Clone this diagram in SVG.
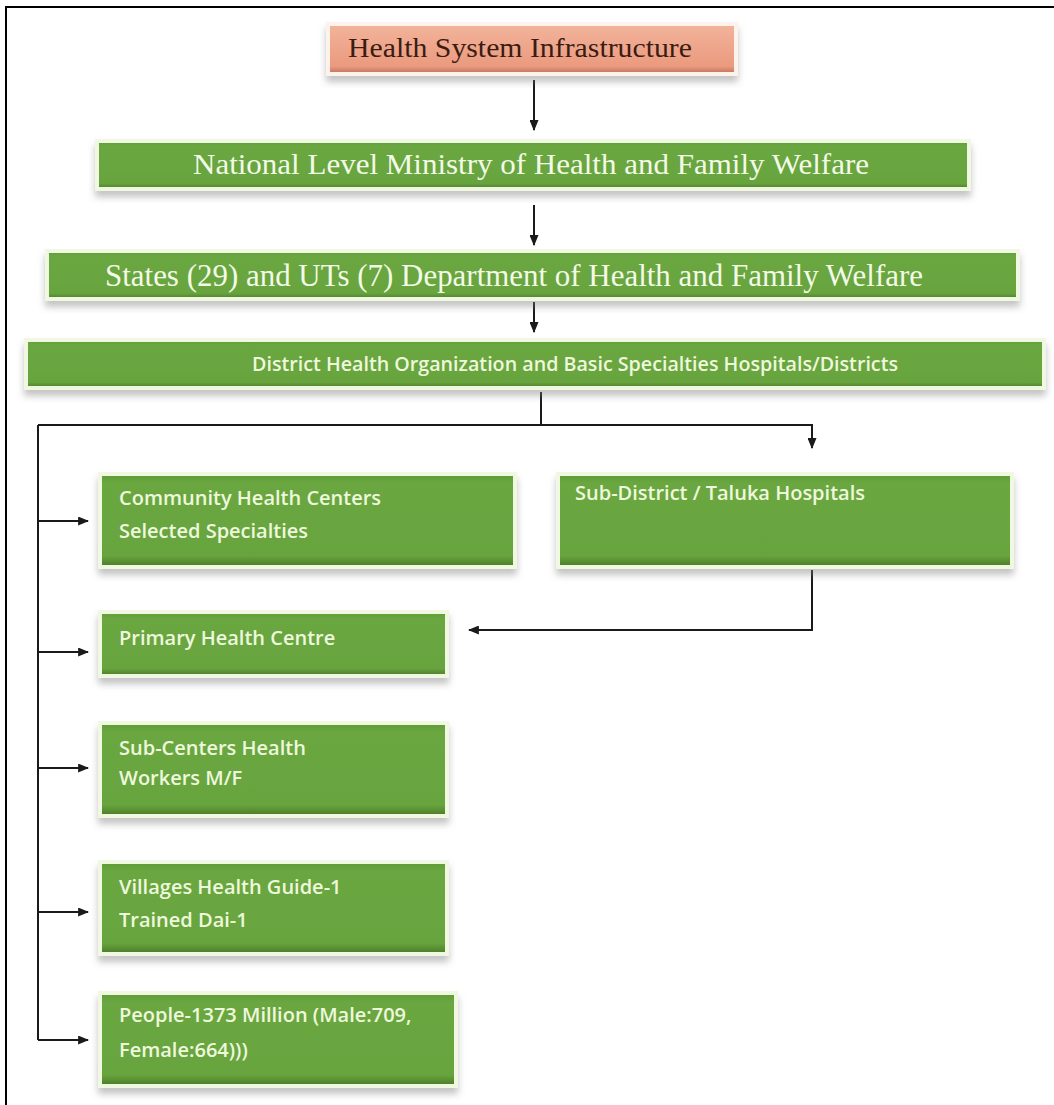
<svg xmlns="http://www.w3.org/2000/svg" width="1054" height="1105" viewBox="0 0 1054 1105">
<defs>
<linearGradient id="gGreen" x1="0" y1="0" x2="0" y2="1">
<stop offset="0" stop-color="#5f9a36"/>
<stop offset="0.1" stop-color="#6aa740"/>
<stop offset="0.88" stop-color="#68a43e"/>
<stop offset="1" stop-color="#4a7a26"/>
</linearGradient>
<linearGradient id="gSalmon" x1="0" y1="0" x2="0" y2="1">
<stop offset="0" stop-color="#f2b49c"/>
<stop offset="0.85" stop-color="#eb9a7e"/>
<stop offset="1" stop-color="#b87058"/>
</linearGradient>
<filter id="sh" x="-5%" y="-20%" width="110%" height="150%">
<feDropShadow dx="0" dy="6" stdDeviation="3.5" flood-color="#7a7a7a" flood-opacity="0.45"/>
</filter>
<marker id="ah" viewBox="0 0 10 10" refX="9" refY="5" markerWidth="11" markerHeight="9" orient="auto-start-reverse" markerUnits="userSpaceOnUse" preserveAspectRatio="none">
<path d="M0,0 L10,5 L0,10 z" fill="#1a1a1a"/>
</marker>
</defs>
<style>
.box{fill:url(#gGreen);stroke:#f1f8e2;stroke-width:4;filter:url(#sh)}
.top{fill:url(#gSalmon);stroke:#fdf3ec;stroke-width:4;filter:url(#sh)}
.serif{font-family:"Liberation Serif","DejaVu Serif",serif;fill:#f3fae6}
.sans{font-family:"Open Sans","Liberation Sans",sans-serif;fill:#eef8dc;font-size:20px;font-weight:600}
.ln{stroke:#1a1a1a;stroke-width:2;fill:none}
.ar{stroke:#1a1a1a;stroke-width:2;fill:none;marker-end:url(#ah)}
</style>
<rect x="0" y="0" width="1054" height="1105" fill="#ffffff"/>
<path d="M6,1105 V7 H1054" fill="none" stroke="#000" stroke-width="2"/>

<g id="connectors">
<line class="ar" x1="534" y1="80" x2="534" y2="130"/>
<line class="ar" x1="534" y1="205" x2="534" y2="245"/>
<line class="ar" x1="534" y1="302" x2="534" y2="332"/>
<polyline class="ln" points="541,392 541,425"/>
<polyline class="ar" points="38,425 812,425 812,448"/>
<polyline class="ln" points="38,425 38,1040"/>
<line class="ar" x1="38" y1="521" x2="88" y2="521"/>
<line class="ar" x1="38" y1="652" x2="88" y2="652"/>
<line class="ar" x1="38" y1="768" x2="88" y2="768"/>
<line class="ar" x1="38" y1="912" x2="88" y2="912"/>
<line class="ar" x1="38" y1="1040" x2="88" y2="1040"/>
<polyline class="ar" points="812,570 812,630 469,630"/>
</g>

<g id="n-top">
<rect class="top" x="328" y="24" width="408" height="50"/>
<text x="348" y="57" font-family="Liberation Serif, DejaVu Serif, serif" font-size="27" fill="#3a1c12" textLength="344" lengthAdjust="spacingAndGlyphs">Health System Infrastructure</text>
</g>

<g id="n-national">
<rect class="box" x="97" y="141" width="872" height="48"/>
<text class="serif" x="193" y="174" font-size="30" textLength="676" lengthAdjust="spacingAndGlyphs">National Level Ministry of Health and Family Welfare</text>
</g>

<g id="n-states">
<rect class="box" x="47" y="251" width="971" height="48"/>
<text class="serif" x="105" y="286" font-size="32" textLength="818" lengthAdjust="spacingAndGlyphs">States (29) and UTs (7) Department of Health and Family Welfare</text>
</g>

<g id="n-district">
<rect class="box" x="26" y="340" width="1018" height="48"/>
<text class="sans" x="252" y="371" style="font-size:19px" textLength="646" lengthAdjust="spacingAndGlyphs">District Health Organization and Basic Specialties Hospitals/Districts</text>
</g>

<g id="n-community">
<rect class="box" x="100" y="474" width="415" height="93"/>
<text class="sans" x="119" y="505">Community Health Centers</text>
<text class="sans" x="119" y="538">Selected Specialties</text>
</g>

<g id="n-subdistrict">
<rect class="box" x="558" y="474" width="454" height="93"/>
<text class="sans" x="575" y="500">Sub-District / Taluka Hospitals</text>
</g>

<g id="n-primary">
<rect class="box" x="100" y="612" width="347" height="64"/>
<text class="sans" x="119" y="645">Primary Health Centre</text>
</g>

<g id="n-subcenters">
<rect class="box" x="100" y="723" width="347" height="93"/>
<text class="sans" x="119" y="755">Sub-Centers Health</text>
<text class="sans" x="119" y="785">Workers M/F</text>
</g>

<g id="n-villages">
<rect class="box" x="100" y="862" width="347" height="92"/>
<text class="sans" x="119" y="894">Villages Health Guide-1</text>
<text class="sans" x="119" y="927">Trained Dai-1</text>
</g>

<g id="n-people">
<rect class="box" x="100" y="993" width="356" height="93"/>
<text class="sans" x="119" y="1022">People-1373 Million (Male:709,</text>
<text class="sans" x="119" y="1057">Female:664)))</text>
</g>
</svg>
